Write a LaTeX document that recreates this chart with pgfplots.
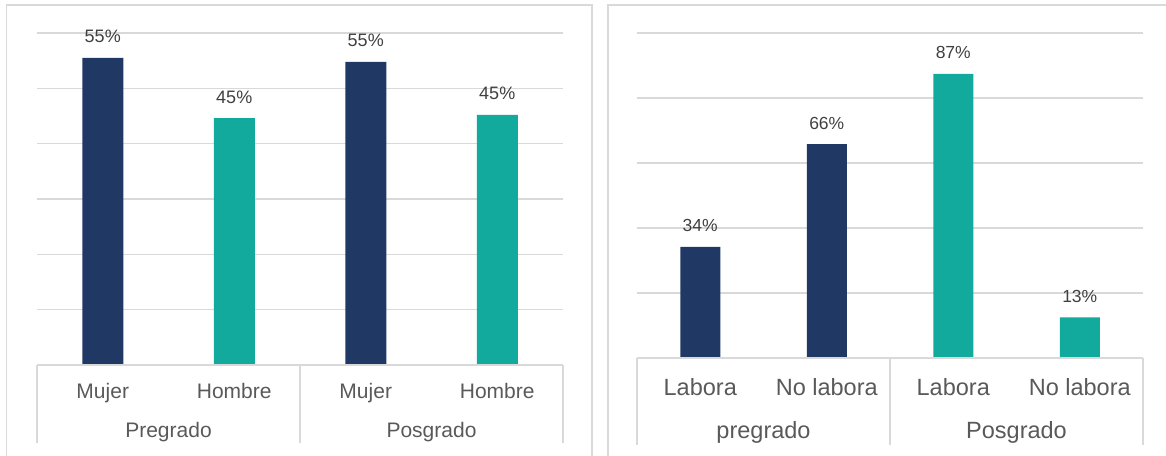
\documentclass[border=0pt]{standalone}
\usepackage{pgfplots}
\pgfplotsset{compat=1.18}
\usepackage{fontspec}
\setmainfont{Liberation Sans}
\definecolor{navy}{HTML}{1F3864}
\definecolor{tealc}{HTML}{12AA9C}
\definecolor{gridc}{HTML}{D9D9D9}
\definecolor{txt}{HTML}{595959}
\definecolor{lbl}{HTML}{404040}
\pgfplotsset{
  mystyle/.style={
    scale only axis, clip=false,
    xmin=-0.5, xmax=3.5, ymin=0,
    axis line style={draw=none}, tick style={draw=none},
    major tick length=0pt,
    ymajorgrids, grid style={gridc, line width=1.3pt},
    yticklabels={},
    xtick={0,1,2,3},
    point meta=explicit symbolic,
    nodes near coords={\pgfplotspointmeta\%},
    every node near coord/.append style={anchor=base, yshift=15pt, text=lbl},
    xticklabel style={anchor=base, text=txt},
  }
}
\begin{document}
\begin{tikzpicture}
\useasboundingbox (0pt,0pt) rectangle (1166pt,455pt);
\draw[gridc, line width=1.5pt] (6.5pt,-5pt) -- (6.5pt,450pt) -- (592pt,450pt) -- (592pt,-5pt);
\draw[gridc, line width=1.5pt] (608pt,-5pt) -- (608pt,450pt) -- (1175pt,450pt);

\begin{axis}[mystyle,
  at={(37pt,90pt)}, anchor=south west,
  width=526pt, height=332pt,
  ymax=60, ytick={10,20,30,40,50,60},
  xticklabels={Mujer,Hombre,Mujer,Hombre},
  xticklabel style={yshift=-33pt, font=\fontsize{21}{24}\selectfont},
  every node near coord/.append style={font=\fontsize{18}{20}\selectfont},
]
\addplot[ybar, bar width=41pt, fill=navy, draw=none] coordinates {(0,55.5) [55] (2,54.8) [55]};
\addplot[ybar, bar width=41pt, fill=tealc, draw=none] coordinates {(1,44.6) [45] (3,45.2) [45]};
\draw[gridc, line width=1.5pt] (axis cs:-0.5,0) -- (axis cs:3.5,0);
\draw[gridc, line width=1.5pt] (axis cs:-0.5,0) -- ++(0pt,-78pt);
\draw[gridc, line width=1.5pt] (axis cs:1.5,0) -- ++(0pt,-78pt);
\draw[gridc, line width=1.5pt] (axis cs:3.5,0) -- ++(0pt,-78pt);
\node[anchor=base, yshift=-72pt, text=txt, font=\fontsize{21}{24}\selectfont] at (axis cs:0.5,0) {Pregrado};
\node[anchor=base, yshift=-72pt, text=txt, font=\fontsize{21}{24}\selectfont] at (axis cs:2.5,0) {Posgrado};
\end{axis}

\begin{axis}[mystyle,
  at={(637pt,97pt)}, anchor=south west,
  width=506pt, height=325pt,
  ymax=100, ytick={20,40,60,80,100},
  xticklabels={Labora,No labora,Labora,No labora},
  xticklabel style={yshift=-37pt, font=\fontsize{23.5}{27}\selectfont},
  every node near coord/.append style={font=\fontsize{17.5}{20}\selectfont},
]
\addplot[ybar, bar width=40pt, fill=navy, draw=none] coordinates {(0,34.2) [34] (1,65.8) [66]};
\addplot[ybar, bar width=40pt, fill=tealc, draw=none] coordinates {(2,87.4) [87] (3,12.5) [13]};
\draw[gridc, line width=1.5pt] (axis cs:-0.5,0) -- (axis cs:3.5,0);
\draw[gridc, line width=1.5pt] (axis cs:-0.5,0) -- ++(0pt,-87pt);
\draw[gridc, line width=1.5pt] (axis cs:1.5,0) -- ++(0pt,-87pt);
\draw[gridc, line width=1.5pt] (axis cs:3.5,0) -- ++(0pt,-87pt);
\node[anchor=base, yshift=-80pt, text=txt, font=\fontsize{23.5}{27}\selectfont] at (axis cs:0.5,0) {pregrado};
\node[anchor=base, yshift=-80pt, text=txt, font=\fontsize{23.5}{27}\selectfont] at (axis cs:2.5,0) {Posgrado};
\end{axis}
\end{tikzpicture}
\end{document}
